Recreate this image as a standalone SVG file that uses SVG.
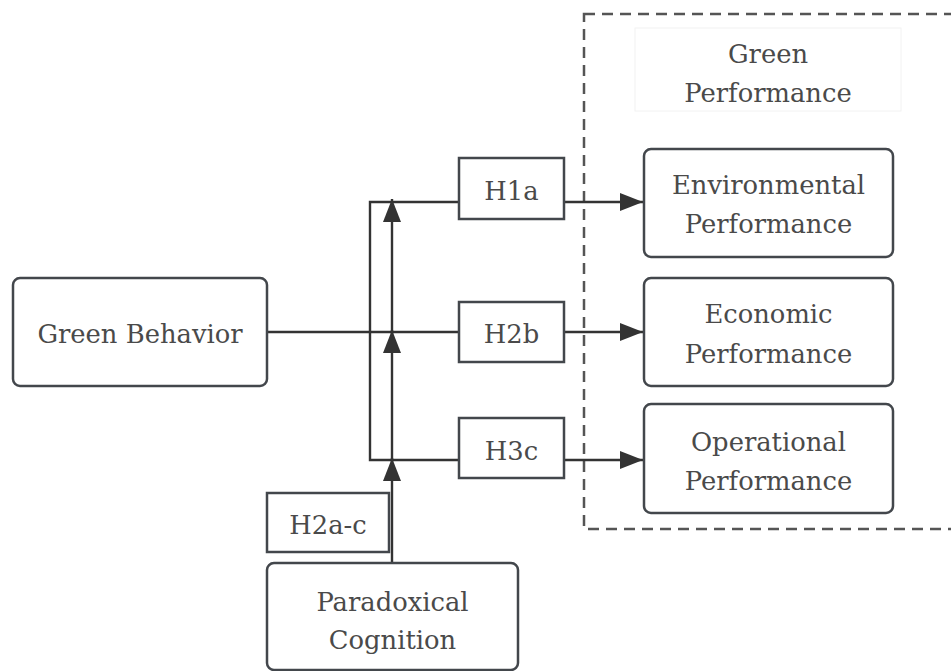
<svg xmlns="http://www.w3.org/2000/svg" width="951" height="671" viewBox="0 0 951 671">
<style>
.node{fill:#fff;stroke:#43474c;stroke-width:2.5}
.hbox{fill:#fff;stroke:#43474c;stroke-width:2.5}
.lbl{font-family:'DejaVu Serif',serif;font-size:25.8px;fill:#4a4a4a;text-anchor:middle}
.ln{fill:none;stroke:#333;stroke-width:2.4}
.grp{fill:none;stroke:#555;stroke-width:2.5;stroke-dasharray:11 7}
</style>
<defs>
<marker id="ah" markerUnits="userSpaceOnUse" markerWidth="24" markerHeight="18" refX="23" refY="9" orient="auto">
<path d="M0,0 L23,9 L0,18 z" fill="#333"/>
</marker>
</defs>
<rect width="951" height="671" fill="#fff"/>
<g id="green-performance">
<rect class="grp" x="584" y="14" width="380" height="515"/>
<rect x="635" y="28" width="266" height="83" fill="none" stroke="#f2f2f2" stroke-width="1"/>
<text class="lbl" x="768" y="63">Green</text>
<text class="lbl" x="768" y="102">Performance</text>
</g>
<g id="connectors">
<path class="ln" d="M267,332 H459" stroke-width="2.9"/>
<path class="ln" d="M459,202 H370 V460 H459"/>
<path class="ln" d="M392,563 V458" stroke-width="3.4" marker-end="url(#ah)"/>
<path class="ln" d="M392,460 V330" marker-end="url(#ah)"/>
<path class="ln" d="M392,332 V199" marker-end="url(#ah)"/>
<path class="ln" d="M564,202 H643" marker-end="url(#ah)"/>
<path class="ln" d="M564,332 H643" marker-end="url(#ah)"/>
<path class="ln" d="M564,460 H643" marker-end="url(#ah)"/>
</g>
<g id="green-behavior">
<rect class="node" x="13" y="278" width="254" height="108" rx="7"/>
<text class="lbl" x="140" y="343">Green Behavior</text>
</g>
<g id="h1a">
<rect class="hbox" x="459" y="158" width="105" height="61"/>
<text class="lbl" x="511.5" y="200">H1a</text>
</g>
<g id="h2b">
<rect class="hbox" x="459" y="302" width="105" height="60"/>
<text class="lbl" x="511.5" y="343">H2b</text>
</g>
<g id="h3c">
<rect class="hbox" x="459" y="418" width="105" height="60"/>
<text class="lbl" x="511.5" y="460">H3c</text>
</g>
<g id="h2a-c">
<rect class="hbox" x="267" y="493" width="122" height="59"/>
<text class="lbl" x="328" y="534">H2a-c</text>
</g>
<g id="paradoxical-cognition">
<rect class="node" x="267" y="563" width="251" height="107" rx="7"/>
<text class="lbl" x="392.5" y="611">Paradoxical</text>
<text class="lbl" x="392.5" y="649">Cognition</text>
</g>
<g id="environmental-performance">
<rect class="node" x="644" y="149" width="249" height="108" rx="7"/>
<text class="lbl" x="768.5" y="194">Environmental</text>
<text class="lbl" x="768.5" y="233">Performance</text>
</g>
<g id="economic-performance">
<rect class="node" x="644" y="278" width="249" height="108" rx="7"/>
<text class="lbl" x="768.5" y="323">Economic</text>
<text class="lbl" x="768.5" y="363">Performance</text>
</g>
<g id="operational-performance">
<rect class="node" x="644" y="404" width="249" height="109" rx="7"/>
<text class="lbl" x="768.5" y="451">Operational</text>
<text class="lbl" x="768.5" y="490">Performance</text>
</g>
</svg>
